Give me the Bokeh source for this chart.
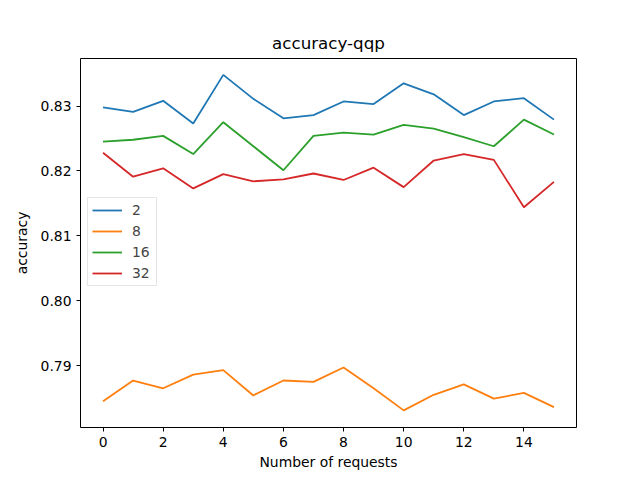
from bokeh.plotting import figure
from bokeh.models import FixedTicker, Range1d, Legend, LegendItem, NumeralTickFormatter
from bokeh.embed import file_html
from bokeh.resources import INLINE

x = list(range(16))
series_names = ["2", "8", "16", "32"]
acc_2 = [0.8298, 0.8291, 0.8308, 0.8273, 0.8348, 0.8311, 0.8281, 0.8286,
         0.8307, 0.8303, 0.8335, 0.8318, 0.8286, 0.8307, 0.8312, 0.8279]
acc_8 = [0.7845, 0.7877, 0.7865, 0.7886, 0.7893, 0.7854, 0.7877, 0.7875,
         0.7897, 0.7865, 0.7831, 0.7855, 0.7871, 0.7849, 0.7858, 0.7836]
acc_16 = [0.8245, 0.8248, 0.8254, 0.8226, 0.8275, 0.8238, 0.8201, 0.8254,
          0.8259, 0.8256, 0.8271, 0.8265, 0.8252, 0.8238, 0.8279, 0.8256]
acc_32 = [0.8228, 0.8191, 0.8204, 0.8173, 0.8195, 0.8184, 0.8187, 0.8196,
          0.8186, 0.8205, 0.8175, 0.8216, 0.8226, 0.8217, 0.8144, 0.8183]
x_ticks = [0, 2, 4, 6, 8, 10, 12, 14]
y_ticks = [0.79, 0.80, 0.81, 0.82, 0.83]
colors = ["#1f77b4", "#ff7f0e", "#2ca02c", "#d62728"]

FONT = "DejaVu Sans"

p = figure(width=632, height=472, output_backend="svg", toolbar_location=None,
           title="accuracy-qqp",
           x_range=Range1d(-0.75, 15.75), y_range=Range1d(0.78046, 0.83732),
           min_border_left=80, min_border_right=56, min_border_top=58, min_border_bottom=45)

p.title.align = "center"
p.title.text_font = FONT
p.title.text_font_size = "16.7px"
p.title.text_font_style = "normal"
p.title.text_color = "black"
p.title.standoff = 12

p.xgrid.visible = False
p.ygrid.visible = False
p.outline_line_color = "black"
p.outline_line_width = 1
p.background_fill_color = "white"
p.border_fill_color = "white"

for ax in (p.xaxis[0], p.yaxis[0]):
    ax.axis_line_color = None
    ax.major_tick_in = 0
    ax.major_tick_out = 4
    ax.minor_tick_line_color = None
    ax.major_tick_line_color = "black"
    ax.major_label_text_font = FONT
    ax.major_label_text_font_size = "13.9px"
    ax.major_label_text_color = "black"
    ax.axis_label_text_font = FONT
    ax.axis_label_text_font_size = "13.9px"
    ax.axis_label_text_font_style = "normal"
    ax.axis_label_text_color = "black"

p.xaxis.ticker = FixedTicker(ticks=x_ticks)
p.yaxis.ticker = FixedTicker(ticks=y_ticks)
p.yaxis.formatter = NumeralTickFormatter(format="0.00")
p.xaxis.axis_label = "Number of requests"
p.yaxis.axis_label = "accuracy"
p.xaxis.axis_label_standoff = 4
p.yaxis.axis_label_standoff = 8

items = []
for name, ys, c in zip(series_names, [acc_2, acc_8, acc_16, acc_32], colors):
    r = p.line(x, ys, line_color=c, line_width=1.8)
    items.append(LegendItem(label=name, renderers=[r]))

legend = Legend(items=items, location=(7, 141))
legend.label_text_font = FONT
legend.label_text_font_size = "13.9px"
legend.border_line_color = "#cccccc"
legend.border_line_width = 1
legend.background_fill_alpha = 0.8
legend.glyph_width = 30
legend.glyph_height = 16
legend.label_height = 16
legend.label_standoff = 10
legend.spacing = 5
legend.padding = 4
legend.margin = 0
p.add_layout(legend, "center")

open("out.html", "w").write(file_html(p, INLINE))
